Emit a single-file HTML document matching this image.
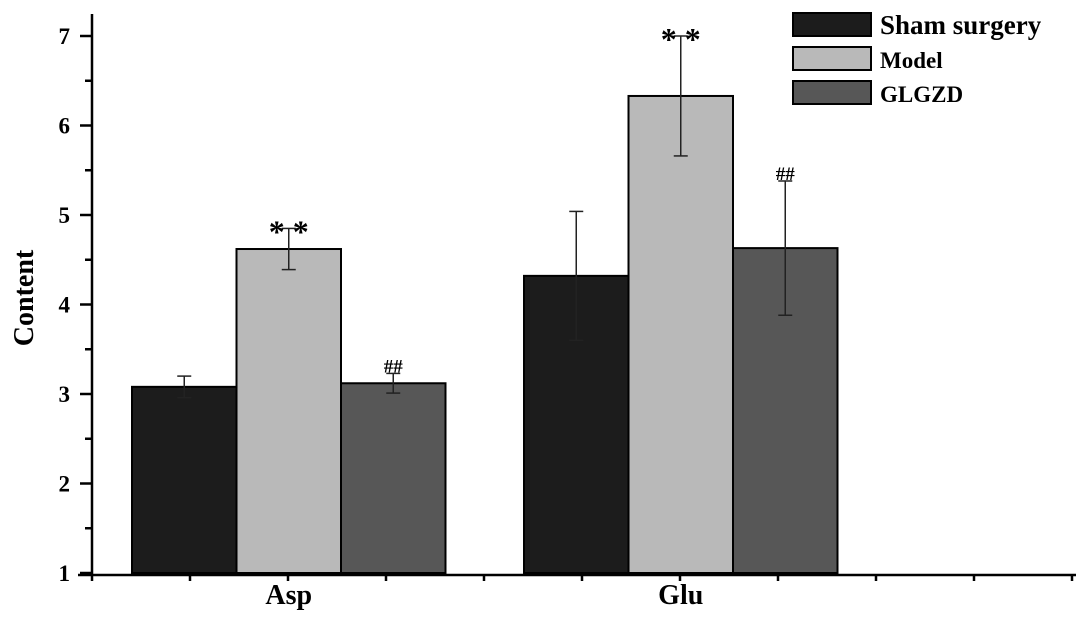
<!DOCTYPE html>
<html><head><meta charset="utf-8"><style>
html,body{margin:0;padding:0;background:#fff}
svg{display:block;font-family:"Liberation Serif",serif;font-weight:bold}
</style></head><body>
<svg id="chart" width="1087" height="621" viewBox="0 0 1087 621" xmlns="http://www.w3.org/2000/svg"></svg>
<script>
const categories = ["Asp", "Glu"];
const seriesNames = ["Sham surgery", "Model", "GLGZD"];
const shamValues = [3.08, 4.32];
const modelValues = [4.62, 6.33];
const glgzdValues = [3.12, 4.63];
const shamErr = [0.12, 0.72];
const modelErr = [0.23, 0.67];
const glgzdErr = [0.11, 0.75];
const sigMarks = [["", "* *", "##"], ["", "* *", "##"]];
const yTicks = [1, 2, 3, 4, 5, 6, 7];

const svg = document.getElementById('chart');
const NS = "http://www.w3.org/2000/svg";
function el(tag, attrs, parent) {
  const e = document.createElementNS(NS, tag);
  for (const k in attrs) e.setAttribute(k, attrs[k]);
  (parent || svg).appendChild(e);
  return e;
}
const y = v => 573 - (v - 1) * 89.5;
const groupStart = [132, 524];
const barW = 104.5;
const fills = ["#1c1c1c", "#b9b9b9", "#575757"];
const values = [shamValues, modelValues, glgzdValues];
const errs = [shamErr, modelErr, glgzdErr];

categories.forEach((c, ci) => {
  values.forEach((vals, si) => {
    const x = groupStart[ci] + si * barW;
    const r = el('rect', {x: x, y: y(vals[ci]), width: barW, height: y(1) - y(vals[ci]), fill: fills[si], stroke: "#000", "stroke-width": 2});
    
    
    const cx = x + barW / 2;
    const e = errs[si][ci];
    const g = el('g', {stroke: "#222", "stroke-width": 1.5});
    
    
    el('line', {x1: cx, x2: cx, y1: y(vals[ci] + e), y2: y(vals[ci] - e)}, g);
    el('line', {x1: cx - 7, x2: cx + 7, y1: y(vals[ci] + e), y2: y(vals[ci] + e)}, g);
    el('line', {x1: cx - 7, x2: cx + 7, y1: y(vals[ci] - e), y2: y(vals[ci] - e)}, g);
    const s = sigMarks[ci][si];
    if (s) {
      const isStar = s.indexOf('*') >= 0;
      const t = el('text', {x: cx, y: y(vals[ci] + e) + (isStar ? 14 : -1), "text-anchor": "middle", "font-size": isStar ? 32 : 19, fill: "#000"});
      t.textContent = s;
      
      
    }
  });
});

const ax = el('g', {stroke: "#000", "stroke-width": 2.5});


el('line', {x1: 92, x2: 92, y1: 14, y2: 575}, ax);
el('line', {x1: 78, x2: 1076, y1: 575, y2: 575}, ax);
yTicks.forEach(v => {
  el('line', {x1: 80, x2: 92, y1: y(v), y2: y(v)}, ax);
  if (v < 7) el('line', {x1: 85, x2: 92, y1: y(v + 0.5), y2: y(v + 0.5)}, ax);
  const t = el('text', {x: 70, y: y(v) + 8, "text-anchor": "end", "font-size": 23, fill: "#000"});
  t.textContent = v;
  
  
});
for (let i = 0; i <= 10; i++) {
  el('line', {x1: 92 + i * 98, x2: 92 + i * 98, y1: 575, y2: 581}, ax);
}
categories.forEach((c, ci) => {
  const t = el('text', {x: groupStart[ci] + barW * 1.5, y: 604, "text-anchor": "middle", "font-size": 28, fill: "#000"});
  t.textContent = c;
  
  
});
const yt = el('text', {x: 33, y: 298, "text-anchor": "middle", "font-size": 28, fill: "#000", transform: "rotate(-90 33 298)"});
yt.textContent = "Content";



seriesNames.forEach((n, i) => {
  const g = el('g', {});
  
  
  const yy = 13 + i * 34;
  el('rect', {x: 793, y: yy, width: 78, height: 23, fill: fills[i], stroke: "#000", "stroke-width": 2}, g);
  const t = el('text', {x: 880, y: yy + 21, "font-size": i === 0 ? 27 : 23, fill: "#000"}, g);
  t.textContent = n;
});
</script>
</body></html>
